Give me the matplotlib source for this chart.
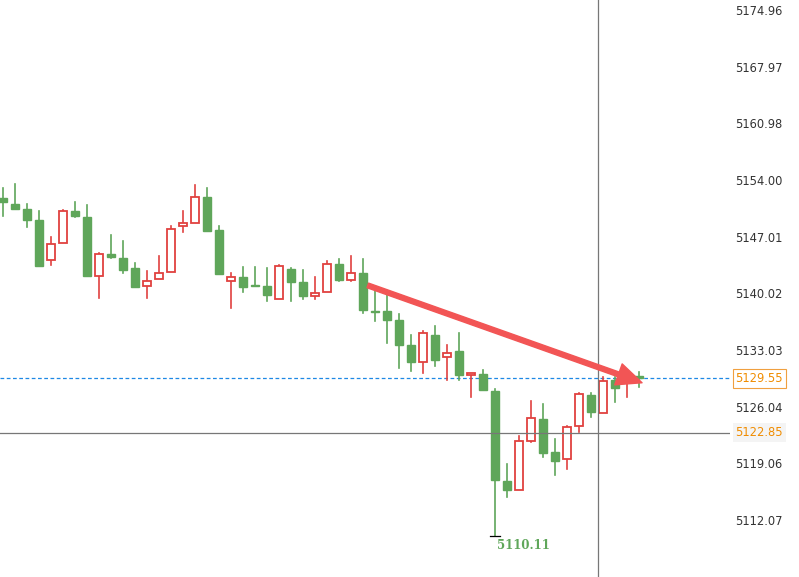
import matplotlib.pyplot as plt
from matplotlib.patches import Rectangle

# candles: open, high, low, close
opens = [5151.8, 5151.0, 5150.4, 5149.1, 5144.1, 5146.2, 5150.2, 5149.4, 5142.2, 5144.9,
         5144.4, 5143.2, 5140.9, 5141.8, 5142.7, 5148.3, 5148.7, 5151.9, 5147.8, 5141.5,
         5142.0, 5141.0, 5140.9, 5139.3, 5143.0, 5141.4, 5139.7, 5140.2, 5143.6, 5141.7,
         5142.5, 5137.8, 5137.8, 5136.7, 5133.7, 5131.6, 5134.9, 5132.2, 5132.9, 5130.0,
         5130.1, 5128.0, 5116.9, 5115.8, 5121.8, 5124.5, 5120.5, 5119.6, 5123.7, 5127.5,
         5125.3, 5129.3, 5129.1, 5129.8]
highs = [5153.0, 5153.5, 5151.0, 5150.2, 5147.0, 5150.3, 5151.3, 5150.9, 5145.0, 5147.2,
         5146.5, 5143.8, 5142.8, 5144.6, 5148.3, 5150.2, 5153.4, 5153.0, 5148.3, 5142.5,
         5143.3, 5143.3, 5143.2, 5143.5, 5143.2, 5142.9, 5142.0, 5144.0, 5144.3, 5144.6,
         5144.3, 5140.6, 5139.8, 5137.5, 5134.9, 5135.4, 5136.0, 5133.7, 5135.1, 5130.1,
         5130.6, 5128.2, 5119.0, 5122.4, 5126.8, 5126.4, 5122.1, 5123.7, 5127.7, 5127.7,
         5129.7, 5129.7, 5129.95, 5130.3]
lows = [5149.6, 5150.4, 5148.2, 5143.4, 5143.5, 5146.2, 5149.4, 5142.2, 5139.5, 5144.4,
        5142.5, 5140.8, 5139.5, 5141.8, 5142.7, 5147.6, 5148.7, 5147.7, 5142.4, 5138.2,
        5140.2, 5140.9, 5139.1, 5139.3, 5139.1, 5139.3, 5139.3, 5140.2, 5141.5, 5141.5,
        5137.6, 5136.6, 5133.9, 5130.8, 5130.4, 5130.2, 5131.1, 5129.3, 5129.3, 5127.2,
        5128.1, 5110.11, 5114.9, 5115.8, 5121.7, 5119.9, 5117.6, 5118.4, 5122.9, 5124.8,
        5125.3, 5126.6, 5127.2, 5128.5]
closes = [5151.3, 5150.4, 5149.1, 5143.4, 5146.1, 5150.2, 5149.6, 5142.2, 5144.9, 5144.5,
          5142.9, 5140.8, 5141.5, 5142.5, 5147.9, 5148.7, 5151.9, 5147.7, 5142.4, 5142.0,
          5140.8, 5140.9, 5139.8, 5143.4, 5141.4, 5139.7, 5140.1, 5143.6, 5141.7, 5142.5,
          5138.0, 5137.7, 5136.7, 5133.7, 5131.6, 5135.1, 5131.8, 5132.7, 5130.0, 5130.1,
          5128.1, 5117.0, 5115.8, 5121.8, 5124.7, 5120.3, 5119.4, 5123.5, 5127.6, 5125.4,
          5129.2, 5128.4, 5129.6, 5129.55]
y_ticks = [5112.07, 5119.06, 5126.04, 5133.03, 5140.02, 5147.01, 5154.00, 5160.98, 5167.97, 5174.96]
last_price = 5129.55
cross_price = 5122.85
cross_x = 49.58
low_idx = 41
arrow_start = (30.4, 5141.0)
arrow_end = (53.25, 5129.0)

UP = "#e0413f"
DOWN = "#5fa65a"

fig = plt.figure(figsize=(7.99, 5.77), dpi=100)
ax = fig.add_axes([0, 0, 730 / 799, 1])

w = 0.72
for i, (o, h, l, c) in enumerate(zip(opens, highs, lows, closes)):
    up = c > o
    col = UP if up else DOWN
    lo, hi = min(o, c), max(o, c)
    ax.plot([i, i], [hi, h], color=col, lw=1.2, zorder=2)
    ax.plot([i, i], [l, lo], color=col, lw=1.2, zorder=2)
    body = max(hi - lo, 0.15)
    if up:
        ax.add_patch(Rectangle((i - w / 2, lo), w, body, facecolor="white",
                               edgecolor=col, lw=1.3, zorder=3))
    else:
        ax.add_patch(Rectangle((i - w / 2, lo), w, body, facecolor=col,
                               edgecolor=col, lw=1, zorder=3))

ax.set_xlim(-0.25, 60.58)
ax.set_ylim(5105.05, 5176.19)

ax.axhline(last_price, color="#1e88e5", lw=0.9, ls=(0, (3, 2)), zorder=1)
ax.axhline(cross_price, color="#777777", lw=0.9, zorder=4)
ax.axvline(cross_x, color="#777777", lw=0.9, zorder=4)

ax.annotate("", xy=arrow_end, xytext=arrow_start,
            arrowprops=dict(arrowstyle="simple,head_length=1.8,head_width=1.6,tail_width=0.35",
                            color="#f25555", shrinkA=0, shrinkB=0), zorder=6)

ax.plot([low_idx - 0.4, low_idx + 0.4], [lows[low_idx]] * 2, color="black", lw=0.9, zorder=5)
ax.text(low_idx + 0.2, lows[low_idx] - 0.4, f"{lows[low_idx]:.2f}", color=DOWN,
        fontsize=8.5, fontweight="bold", family="DejaVu Serif", va="top", ha="left")

ax.set_xticks([])
ax.set_yticks([])
for s in ax.spines.values():
    s.set_visible(False)

# right price scale
rx = fig.add_axes([730 / 799, 0, 69 / 799, 1])
rx.set_ylim(ax.get_ylim())
rx.set_xlim(0, 1)
rx.axis("off")
for t in y_ticks:
    rx.text(0.08, t - 0.2, f"{t:.2f}", fontsize=8.3, color="#333333", va="center")
rx.text(0.08, last_price, f"{last_price:.2f}", fontsize=8.3, color="#f08c00", va="center",
        bbox=dict(boxstyle="square,pad=0.25", facecolor="white", edgecolor="#f0a040", lw=0.8))
rx.text(0.08, cross_price, f"{cross_price:.2f}", fontsize=8.3, color="#f08c00", va="center",
        bbox=dict(boxstyle="square,pad=0.25", facecolor="#f4f4f4", edgecolor="none"))

fig.savefig("out.png", dpi=100)
